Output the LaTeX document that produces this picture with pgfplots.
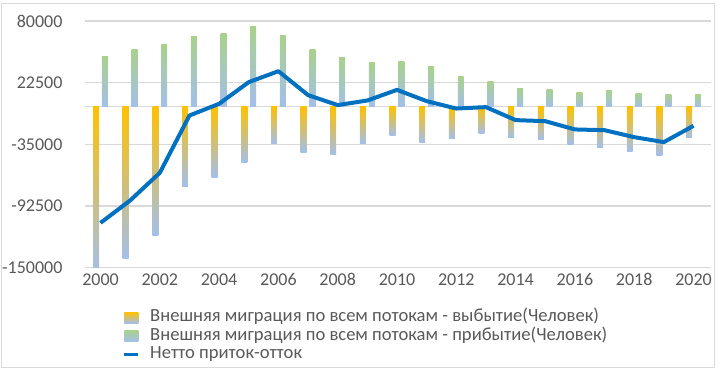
\documentclass[border=0pt]{standalone}
\usepackage{fontspec}
\setmainfont{Carlito}
\usepackage{pgfplots}
\pgfplotsset{compat=1.18}
\definecolor{gold}{HTML}{FFC000}
\definecolor{lblue}{HTML}{A3BFEA}
\definecolor{lgreen}{HTML}{A9D18E}
\definecolor{lineblue}{HTML}{0070C0}
\definecolor{gridc}{HTML}{D9D9D9}
\definecolor{txt}{HTML}{595959}
\pgfplotstableread{
year dep arr net
2000 -155000 46900 -108200
2001 -141400 53100 -87300
2002 -120000 58100 -61500
2003 -74000 65300 -8100
2004 -65600 68100 2800
2005 -51900 74600 23000
2006 -33900 66500 33200
2007 -42300 53100 10900
2008 -44800 46000 1600
2009 -34200 41300 5900
2010 -26400 42000 15800
2011 -32900 37600 5300
2012 -29800 28000 -1600
2013 -24600 23900 -300
2014 -28900 16800 -12400
2015 -30100 16200 -13400
2016 -34800 13400 -21100
2017 -37600 15200 -21800
2018 -41600 12400 -28300
2019 -45100 11800 -32900
2020 -28900 11200 -17700
}\data
\begin{document}
\begin{tikzpicture}
\useasboundingbox (0,0) rectangle (719pt,370pt);
\draw[color=gridc, line width=0.8pt] (1.5pt,3pt) rectangle (714.5pt,367pt);
\begin{axis}[
  at={(84.5pt,102.3pt)}, anchor=south west,
  scale only axis, width=626.5pt, height=246.7pt,
  xmin=1999.46, xmax=2020.59, ymin=-150000, ymax=80000,
  scaled y ticks=false,
  axis line style={draw=none},
  major tick length=0pt,
  ytick={-150000,-92500,-35000,22500,80000},
  yticklabels={-150000,-92500,-35000,22500,80000},
  extra y ticks={0}, extra y tick labels={},
  extra y tick style={grid=major},
  xtick={2000,2002,...,2020},
  xticklabels={2000,2002,2004,2006,2008,2010,2012,2014,2016,2018,2020},
  ymajorgrids,
  grid style={color=gridc, line width=1.3pt},
  tick label style={font=\fontsize{18}{21}\selectfont, text=txt},
  y tick label style={xshift=-18.5pt},
  x tick label style={yshift=-2.4pt},
  legend style={at={(rel axis cs:0.0567,-0.159)}, anchor=north west, draw=none, fill=none,
    font=\fontsize{18.6}{21}\selectfont, text=txt, row sep=1.5pt, column sep=10pt,
    nodes={inner sep=0.5pt, text height=12pt, text depth=4pt, anchor=west}},
  legend cell align=left,
]
\pgfplotsinvokeforeach{2000,...,2020}{
  \addplot[ybar, bar width=0.2, bar shift=-0.15, draw=none, top color=gold, bottom color=lblue,
    forget plot, x filter/.expression={abs(x-#1)<0.5 ? x : nan}]
    table[x=year, y=dep] {\data};
  \addplot[ybar, bar width=0.2, bar shift=0.15, draw=none, top color=lgreen, bottom color=lblue,
    forget plot, x filter/.expression={abs(x-#1)<0.5 ? x : nan}]
    table[x=year, y=arr] {\data};
}
\addlegendimage{draw=none, legend image code/.code={\path[draw=none, top color=gold, bottom color=lblue] (0pt,-5.5pt) rectangle (14pt,5.5pt);}}
\addlegendentry{Внешняя миграция по всем потокам - выбытие(Человек)}
\addlegendimage{draw=none, legend image code/.code={\path[draw=none, top color=lgreen, bottom color=lblue] (0pt,-5.5pt) rectangle (14pt,5.5pt);}}
\addlegendentry{Внешняя миграция по всем потокам - прибытие(Человек)}
\addplot[color=lineblue, line width=4pt, mark=none, line join=round,
  legend image code/.code={\draw[color=lineblue, line width=2.5pt] (0pt,0pt) -- (14pt,0pt);}]
  table[x=year, y=net] {\data};
\addlegendentry{Нетто приток-отток}
\end{axis}
\end{tikzpicture}
\end{document}
